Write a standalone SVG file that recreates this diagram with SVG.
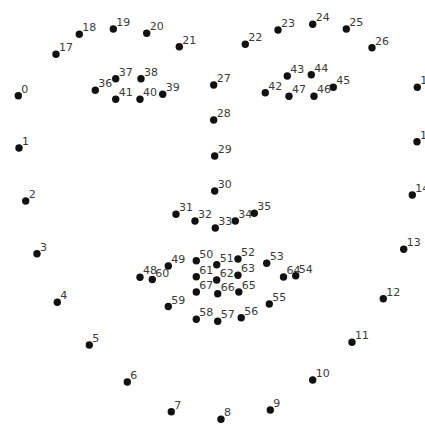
<svg xmlns="http://www.w3.org/2000/svg" width="425" height="424" viewBox="0 0 425 424">
<style>
.d{fill:#111}
.t{font-family:"DejaVu Sans",sans-serif;font-size:11px;fill:#3a3a3a}
</style>
<rect width="425" height="424" fill="#fff"/>
<g id="p0"><circle class="d" cx="18.3" cy="95.7" r="3.7"/><text class="t" x="21.3" y="92.7">0</text></g>
<g id="p1"><circle class="d" cx="19" cy="148" r="3.7"/><text class="t" x="22" y="145">1</text></g>
<g id="p2"><circle class="d" cx="25.7" cy="201" r="3.7"/><text class="t" x="28.7" y="198">2</text></g>
<g id="p3"><circle class="d" cx="37" cy="253.7" r="3.7"/><text class="t" x="40" y="250.7">3</text></g>
<g id="p4"><circle class="d" cx="57.3" cy="302.3" r="3.7"/><text class="t" x="60.3" y="299.3">4</text></g>
<g id="p5"><circle class="d" cx="89.3" cy="345" r="3.7"/><text class="t" x="92.3" y="342">5</text></g>
<g id="p6"><circle class="d" cx="127.3" cy="382" r="3.7"/><text class="t" x="130.3" y="379">6</text></g>
<g id="p7"><circle class="d" cx="171.3" cy="411.7" r="3.7"/><text class="t" x="174.3" y="408.7">7</text></g>
<g id="p8"><circle class="d" cx="221" cy="419.3" r="3.7"/><text class="t" x="224" y="416.3">8</text></g>
<g id="p9"><circle class="d" cx="270.3" cy="410" r="3.7"/><text class="t" x="273.3" y="407">9</text></g>
<g id="p10"><circle class="d" cx="312.7" cy="380" r="3.7"/><text class="t" x="315.7" y="377">10</text></g>
<g id="p11"><circle class="d" cx="352" cy="342.3" r="3.7"/><text class="t" x="355" y="339.3">11</text></g>
<g id="p12"><circle class="d" cx="383.3" cy="298.7" r="3.7"/><text class="t" x="386.3" y="295.7">12</text></g>
<g id="p13"><circle class="d" cx="403.7" cy="249.3" r="3.7"/><text class="t" x="406.7" y="246.3">13</text></g>
<g id="p14"><circle class="d" cx="412.3" cy="195" r="3.7"/><text class="t" x="415.3" y="192">14</text></g>
<g id="p15"><circle class="d" cx="417" cy="141.7" r="3.7"/><text class="t" x="420" y="138.7">15</text></g>
<g id="p16"><circle class="d" cx="417.3" cy="87.3" r="3.7"/><text class="t" x="420.3" y="84.3">16</text></g>
<g id="p17"><circle class="d" cx="56" cy="54.3" r="3.7"/><text class="t" x="59" y="51.3">17</text></g>
<g id="p18"><circle class="d" cx="79.3" cy="34.3" r="3.7"/><text class="t" x="82.3" y="31.3">18</text></g>
<g id="p19"><circle class="d" cx="113.3" cy="29" r="3.7"/><text class="t" x="116.3" y="26">19</text></g>
<g id="p20"><circle class="d" cx="146.7" cy="33.3" r="3.7"/><text class="t" x="149.7" y="30.3">20</text></g>
<g id="p21"><circle class="d" cx="179.3" cy="46.7" r="3.7"/><text class="t" x="182.3" y="43.7">21</text></g>
<g id="p22"><circle class="d" cx="245.3" cy="44.3" r="3.7"/><text class="t" x="248.3" y="41.3">22</text></g>
<g id="p23"><circle class="d" cx="278" cy="30" r="3.7"/><text class="t" x="281" y="27">23</text></g>
<g id="p24"><circle class="d" cx="312.7" cy="24.3" r="3.7"/><text class="t" x="315.7" y="21.3">24</text></g>
<g id="p25"><circle class="d" cx="346.3" cy="29" r="3.7"/><text class="t" x="349.3" y="26">25</text></g>
<g id="p26"><circle class="d" cx="372" cy="47.7" r="3.7"/><text class="t" x="375" y="44.7">26</text></g>
<g id="p27"><circle class="d" cx="213.7" cy="85" r="3.7"/><text class="t" x="216.7" y="82">27</text></g>
<g id="p28"><circle class="d" cx="213.7" cy="120" r="3.7"/><text class="t" x="216.7" y="117">28</text></g>
<g id="p29"><circle class="d" cx="214.7" cy="156" r="3.7"/><text class="t" x="217.7" y="153">29</text></g>
<g id="p30"><circle class="d" cx="214.7" cy="191" r="3.7"/><text class="t" x="217.7" y="188">30</text></g>
<g id="p31"><circle class="d" cx="176" cy="214.3" r="3.7"/><text class="t" x="179" y="211.3">31</text></g>
<g id="p32"><circle class="d" cx="195" cy="221" r="3.7"/><text class="t" x="198" y="218">32</text></g>
<g id="p33"><circle class="d" cx="215.3" cy="228" r="3.7"/><text class="t" x="218.3" y="225">33</text></g>
<g id="p34"><circle class="d" cx="235.3" cy="221" r="3.7"/><text class="t" x="238.3" y="218">34</text></g>
<g id="p35"><circle class="d" cx="254.3" cy="213.3" r="3.7"/><text class="t" x="257.3" y="210.3">35</text></g>
<g id="p36"><circle class="d" cx="95.3" cy="90.3" r="3.7"/><text class="t" x="98.3" y="87.3">36</text></g>
<g id="p37"><circle class="d" cx="115.7" cy="78.7" r="3.7"/><text class="t" x="118.7" y="75.7">37</text></g>
<g id="p38"><circle class="d" cx="141" cy="78.7" r="3.7"/><text class="t" x="144" y="75.7">38</text></g>
<g id="p39"><circle class="d" cx="162.7" cy="94.3" r="3.7"/><text class="t" x="165.7" y="91.3">39</text></g>
<g id="p40"><circle class="d" cx="140" cy="99.3" r="3.7"/><text class="t" x="143" y="96.3">40</text></g>
<g id="p41"><circle class="d" cx="115.7" cy="99.3" r="3.7"/><text class="t" x="118.7" y="96.3">41</text></g>
<g id="p42"><circle class="d" cx="265.3" cy="92.7" r="3.7"/><text class="t" x="268.3" y="89.7">42</text></g>
<g id="p43"><circle class="d" cx="287.3" cy="76" r="3.7"/><text class="t" x="290.3" y="73">43</text></g>
<g id="p44"><circle class="d" cx="311.3" cy="74.7" r="3.7"/><text class="t" x="314.3" y="71.7">44</text></g>
<g id="p45"><circle class="d" cx="333.3" cy="87.3" r="3.7"/><text class="t" x="336.3" y="84.3">45</text></g>
<g id="p46"><circle class="d" cx="314" cy="96.3" r="3.7"/><text class="t" x="317" y="93.3">46</text></g>
<g id="p47"><circle class="d" cx="289" cy="96.3" r="3.7"/><text class="t" x="292" y="93.3">47</text></g>
<g id="p48"><circle class="d" cx="140" cy="277.3" r="3.7"/><text class="t" x="143" y="274.3">48</text></g>
<g id="p49"><circle class="d" cx="168.3" cy="266" r="3.7"/><text class="t" x="171.3" y="263">49</text></g>
<g id="p50"><circle class="d" cx="196.3" cy="260.7" r="3.7"/><text class="t" x="199.3" y="257.7">50</text></g>
<g id="p51"><circle class="d" cx="216.7" cy="264.7" r="3.7"/><text class="t" x="219.7" y="261.7">51</text></g>
<g id="p52"><circle class="d" cx="238" cy="259" r="3.7"/><text class="t" x="241" y="256">52</text></g>
<g id="p53"><circle class="d" cx="266.7" cy="263.3" r="3.7"/><text class="t" x="269.7" y="260.3">53</text></g>
<g id="p54"><circle class="d" cx="295.7" cy="275.7" r="3.7"/><text class="t" x="298.7" y="272.7">54</text></g>
<g id="p55"><circle class="d" cx="269.3" cy="304" r="3.7"/><text class="t" x="272.3" y="301">55</text></g>
<g id="p56"><circle class="d" cx="241.2" cy="317.7" r="3.7"/><text class="t" x="244.2" y="314.7">56</text></g>
<g id="p57"><circle class="d" cx="217.7" cy="321.3" r="3.7"/><text class="t" x="220.7" y="318.3">57</text></g>
<g id="p58"><circle class="d" cx="196.3" cy="319.2" r="3.7"/><text class="t" x="199.3" y="316.2">58</text></g>
<g id="p59"><circle class="d" cx="168.3" cy="306.5" r="3.7"/><text class="t" x="171.3" y="303.5">59</text></g>
<g id="p60"><circle class="d" cx="152.3" cy="279.5" r="3.7"/><text class="t" x="155.3" y="276.5">60</text></g>
<g id="p61"><circle class="d" cx="196.3" cy="276.7" r="3.7"/><text class="t" x="199.3" y="273.7">61</text></g>
<g id="p62"><circle class="d" cx="216.7" cy="280" r="3.7"/><text class="t" x="219.7" y="277">62</text></g>
<g id="p63"><circle class="d" cx="238" cy="275.3" r="3.7"/><text class="t" x="241" y="272.3">63</text></g>
<g id="p64"><circle class="d" cx="283.5" cy="277" r="3.7"/><text class="t" x="286.5" y="274">64</text></g>
<g id="p65"><circle class="d" cx="238.8" cy="292" r="3.7"/><text class="t" x="241.8" y="289">65</text></g>
<g id="p66"><circle class="d" cx="217.7" cy="293.8" r="3.7"/><text class="t" x="220.7" y="290.8">66</text></g>
<g id="p67"><circle class="d" cx="196.3" cy="292" r="3.7"/><text class="t" x="199.3" y="289">67</text></g>
<g id="connectors"></g>
</svg>
